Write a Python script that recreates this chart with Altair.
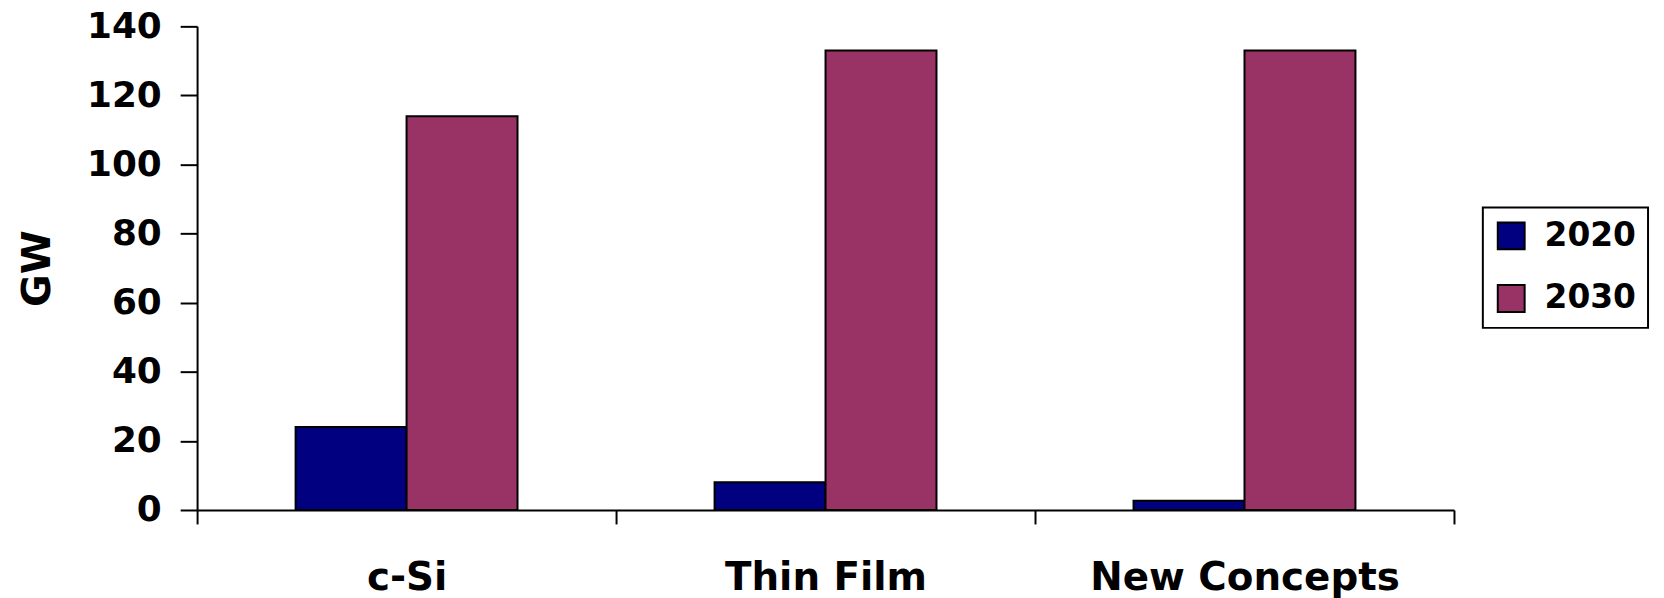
import altair as alt
import pandas as pd

categories = ["c-Si", "Thin Film", "New Concepts"]
years = ["2020", "2030"]
gw_2020 = [24, 8, 2.7]
gw_2030 = [114, 133, 133]
y_ticks = [0, 20, 40, 60, 80, 100, 120, 140]
colors = ["#000080", "#993366"]

rows = []
for c, a, b in zip(categories, gw_2020, gw_2030):
    rows.append({"cat": c, "year": years[0], "gw": a})
    rows.append({"cat": c, "year": years[1], "gw": b})
df = pd.DataFrame(rows)

FONT = "DejaVu Sans"

chart = alt.Chart(df).mark_bar(stroke="black", strokeWidth=2).encode(
    x=alt.X("cat:N", sort=categories,
            scale=alt.Scale(paddingInner=0, paddingOuter=0),
            axis=alt.Axis(title=None, labelAngle=0, tickBand="extent",
                          tickSize=14, tickWidth=2, tickColor="black",
                          domainColor="black", domainWidth=2,
                          labelFont=FONT, labelFontSize=39, labelFontWeight="bold",
                          labelColor="black", labelBaseline="alphabetic",
                          labelPadding=66, labelLimit=0)),
    xOffset=alt.XOffset("year:N", sort=years,
                        scale=alt.Scale(paddingInner=0, paddingOuter=0.888)),
    y=alt.Y("gw:Q", scale=alt.Scale(domain=[0, 140], nice=False),
            axis=alt.Axis(title="GW", values=y_ticks, grid=False,
                          tickSize=17, tickWidth=2, tickColor="black",
                          domainColor="black", domainWidth=2,
                          labelFont=FONT, labelFontSize=36, labelFontWeight="bold",
                          labelColor="black", labelPadding=19,
                          titleFont=FONT, titleFontSize=40, titleFontWeight="bold",
                          titleColor="black", titleAngle=270, titleAlign="center",
                          titleBaseline="alphabetic", titleX=-148, titleY=243)),
    color=alt.Color("year:N", sort=years,
                    scale=alt.Scale(domain=years, range=colors),
                    legend=alt.Legend(title=None, orient="none", legendX=1292, legendY=182,
                                      strokeColor="black", padding=12,
                                      symbolType="square", symbolSize=729,
                                      symbolStrokeColor="black", symbolStrokeWidth=2,
                                      labelFont=FONT, labelFontSize=33, labelFontWeight="bold",
                                      labelColor="black", rowPadding=28, labelOffset=17)),
).properties(
    width=1263, height=486,
    autosize=alt.AutoSizeParams(type="none"),
    padding={"left": 190, "top": 17, "right": 203, "bottom": 87},
).configure_view(stroke=None).configure_legend(strokeWidth=2)

chart.save("out.html", embed_options={"renderer": "svg", "actions": False})
